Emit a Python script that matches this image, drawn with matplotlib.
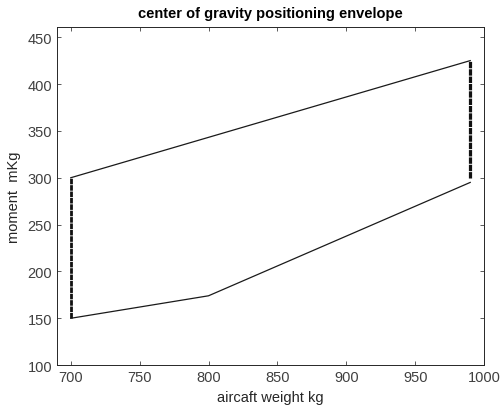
import matplotlib
matplotlib.use("Agg")
import matplotlib.pyplot as plt

plt.rcParams['font.family'] = ['Liberation Sans', 'DejaVu Sans']

# envelope boundaries (weight kg, moment mKg)
upper_w = [700, 990]
upper_m = [300, 425]
lower_w = [700, 800, 990]
lower_m = [150, 174, 295]
fwd_w = [700, 700]
fwd_m = [150, 300]
aft_w = [990, 990]
aft_m = [300, 425]

fig = plt.figure(figsize=(5, 4.1), dpi=100)
ax = fig.add_axes([0.114, 0.107, 0.854, 0.825])

ax.plot(upper_w, upper_m, color='#1a1a1a', lw=0.9)
ax.plot(lower_w, lower_m, color='#1a1a1a', lw=0.9)
ax.plot(fwd_w, fwd_m, color='#111111', lw=2.0, ls=(0, (2, 0.3)))
ax.plot(aft_w, aft_m, color='#111111', lw=2.3, ls=(0, (2, 0.3)))

ax.set_xlim(690, 1000)
ax.set_ylim(100, 461)
ax.set_xticks(range(700, 1001, 50))
ax.set_yticks(range(100, 451, 50))
ax.tick_params(direction='in', top=True, right=True, labelsize=10.5,
               colors='#404040', length=3, width=0.6)
for s in ax.spines.values():
    s.set_color('#262626')
    s.set_linewidth(0.7)

ax.set_title("center of gravity positioning envelope", fontsize=10.5,
             fontweight='bold', pad=7)
ax.set_xlabel("aircaft weight kg", fontsize=10.5, color='#262626', labelpad=4)
ax.set_ylabel("moment  mKg", fontsize=10.5, color='#262626', labelpad=5)

fig.savefig("out.png")
